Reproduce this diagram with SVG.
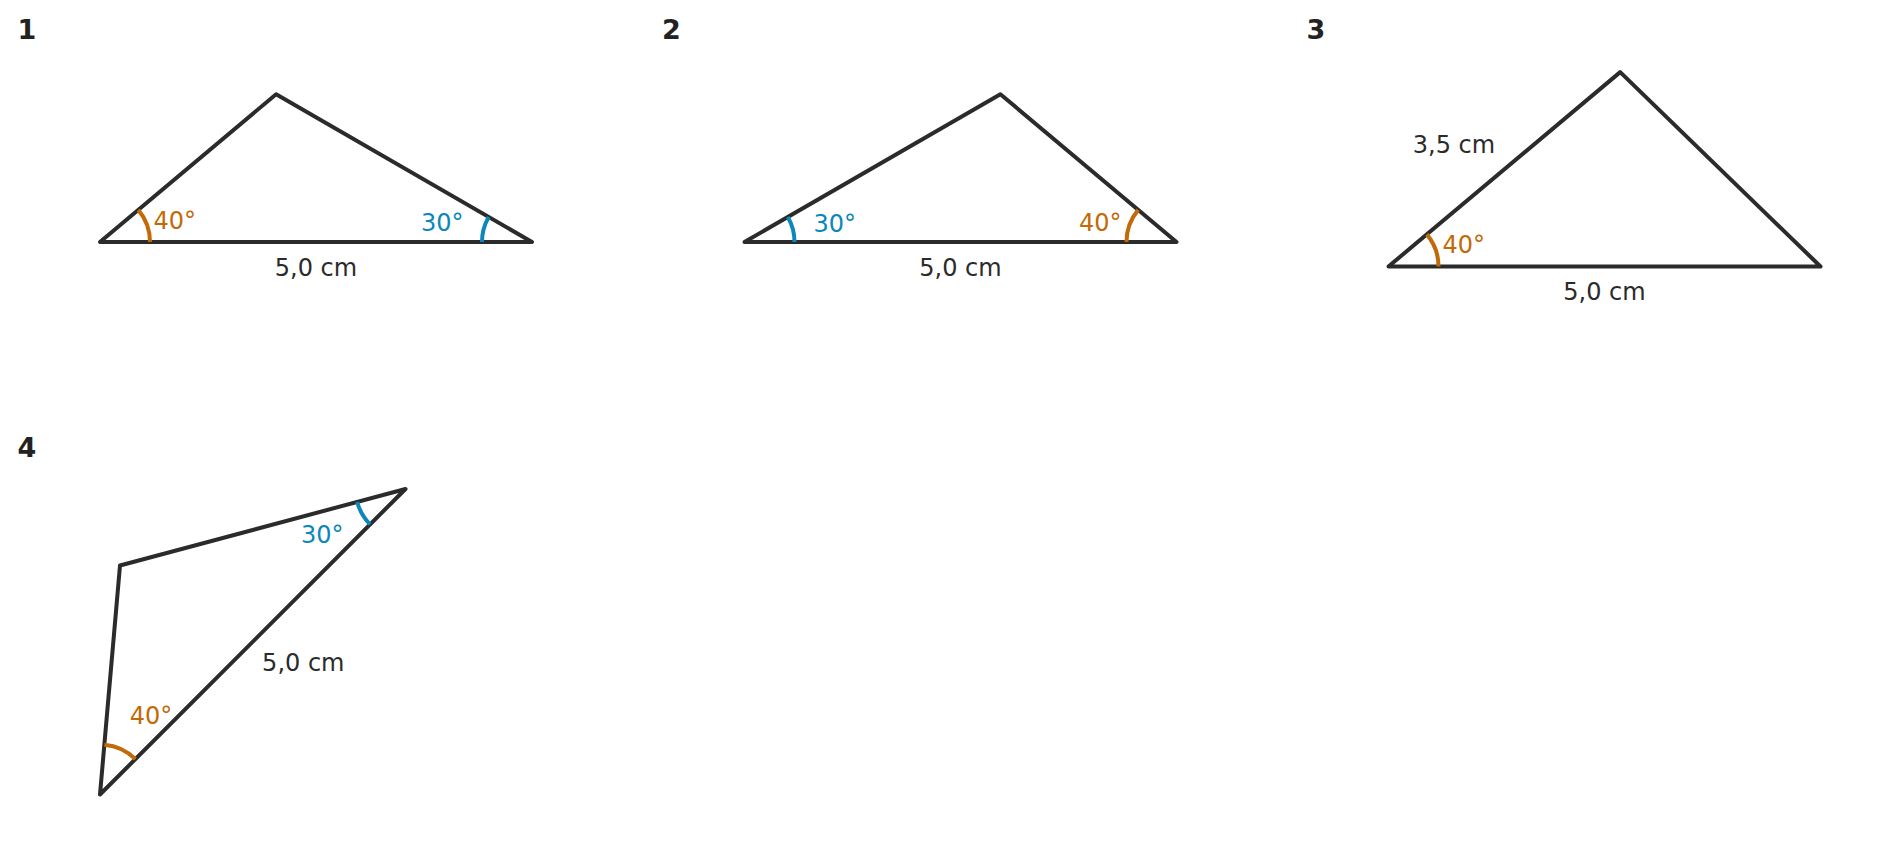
<svg xmlns="http://www.w3.org/2000/svg" width="1892" height="866" viewBox="0 0 1892 866">
<style>
.tri{fill:none;stroke:#2b2b2b;stroke-width:4;stroke-linejoin:round;stroke-linecap:round}
.arcO{fill:none;stroke:#c26a08;stroke-width:4}
.arcB{fill:none;stroke:#0b87ba;stroke-width:4}
.num{font-family:"DejaVu Sans",sans-serif;font-weight:bold;font-size:27px;fill:#222}
.len{font-family:"DejaVu Sans",sans-serif;font-size:24px;fill:#2b2b2b}
.angO{font-family:"DejaVu Sans",sans-serif;font-size:24px;fill:#c26a08}
.angB{font-family:"DejaVu Sans",sans-serif;font-size:24px;fill:#0b87ba}
</style>
<rect width="1892" height="866" fill="#fff"/>
<g transform="translate(0,1)">
<g id="fig1">
<text class="num" x="17.5" y="37.5">1</text>
<polygon class="tri" points="100,241 276.1,93.2 532,241"/>
<path class="arcO" d="M150,241 A50,50 0 0,0 138.3,208.9"/>
<path class="arcB" d="M482,241 A50,50 0 0,1 488.7,216"/>
<text class="angO" x="153.5" y="228">40°</text>
<text class="angB" x="463.5" y="230" text-anchor="end">30°</text>
<text class="len" x="316" y="274.5" text-anchor="middle">5,0 cm</text>
</g>
<g id="fig2">
<text class="num" x="662" y="37.5">2</text>
<polygon class="tri" points="744.5,241 1000.4,93.2 1176.5,241"/>
<path class="arcB" d="M794.5,241 A50,50 0 0,0 787.8,216"/>
<path class="arcO" d="M1126.5,241 A50,50 0 0,1 1138.2,208.9"/>
<text class="angB" x="813.5" y="230.5">30°</text>
<text class="angO" x="1121.5" y="229.8" text-anchor="end">40°</text>
<text class="len" x="960.5" y="274.5" text-anchor="middle">5,0 cm</text>
</g>
<g id="fig3">
<text class="num" x="1306.5" y="37.5">3</text>
<polygon class="tri" points="1388.5,265.5 1620.2,71.1 1820.5,265.5"/>
<path class="arcO" d="M1438.5,265.5 A50,50 0 0,0 1426.8,233.4"/>
<text class="angO" x="1442.5" y="252.2">40°</text>
<text class="len" x="1454" y="152.2" text-anchor="middle">3,5 cm</text>
<text class="len" x="1604.5" y="299" text-anchor="middle">5,0 cm</text>
</g>
<g id="fig4">
<text class="num" x="17.5" y="455.5">4</text>
<polygon class="tri" points="100,793.5 405.5,488 120,564.5"/>
<path class="arcO" d="M135.4,758.1 A50,50 0 0,0 104.4,743.7"/>
<path class="arcB" d="M370.1,523.4 A50,50 0 0,1 357.2,500.9"/>
<text class="angB" x="322.2" y="542.2" text-anchor="middle">30°</text>
<text class="angO" x="151" y="722.8" text-anchor="middle">40°</text>
<text class="len" x="303.3" y="669.8" text-anchor="middle">5,0 cm</text>
</g>
</g>
<g id="connectors"></g>
</svg>
